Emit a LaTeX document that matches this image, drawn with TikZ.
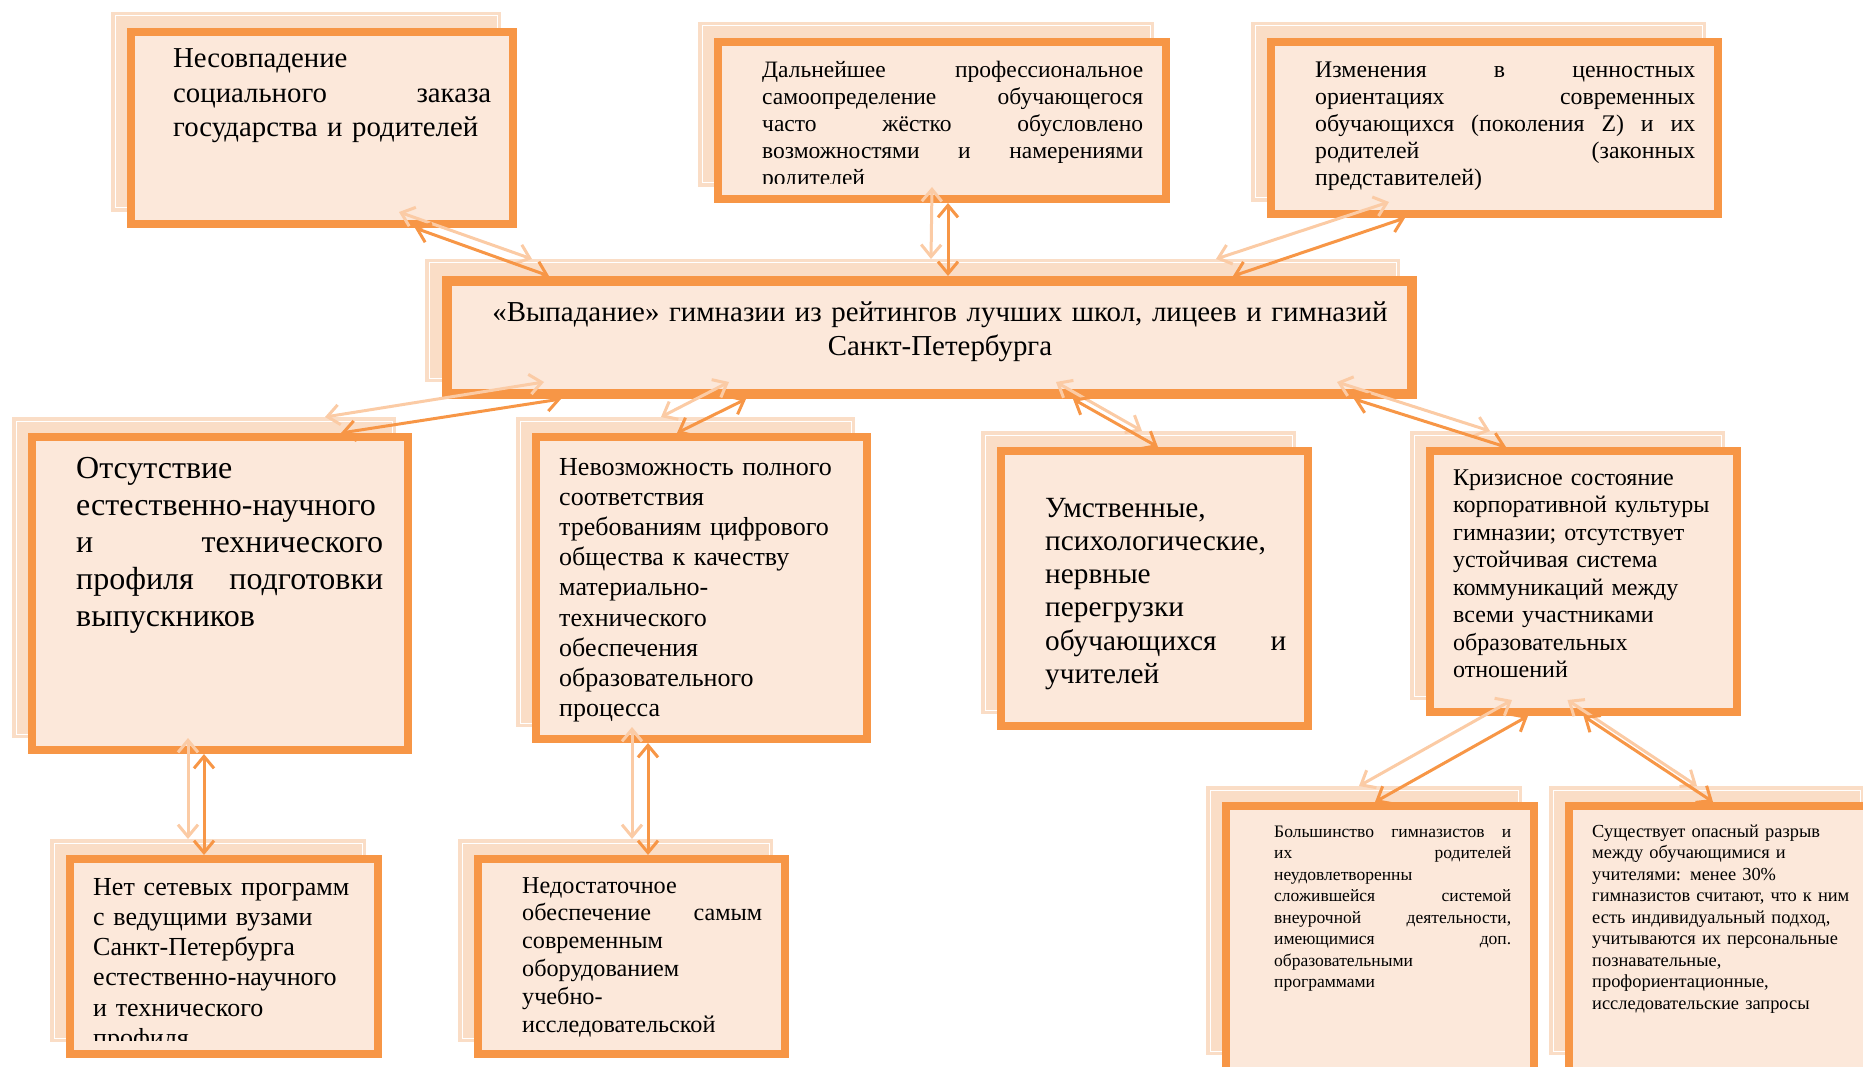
\documentclass[tikz,border=0pt]{standalone}
\usepackage{fontspec}
\setmainfont{Liberation Serif}
\usetikzlibrary{arrows.meta, positioning, calc}
\definecolor{cardline}{HTML}{F79646}
\definecolor{cardfill}{HTML}{FCE8DA}
\definecolor{ghostfill}{HTML}{FADDC6}
\definecolor{ghostline}{HTML}{FBCBA5}
\hyphenpenalty=10000
\exhyphenpenalty=10000

\begin{document}
\begin{tikzpicture}[x=1pt, y=-1pt,
    card/.style={rectangle, draw=cardline, fill=cardfill, line width=8pt, anchor=north west, inner sep=0pt},
    ghost/.style={rectangle, draw=white, fill=ghostfill, line width=1pt, outer sep=4pt, preaction={draw=ghostfill, line width=8pt}, anchor=north west, inner sep=0pt},
    txt/.style={inner sep=0pt, anchor=base west, align=left},
    link/.style={draw=cardline, line width=3pt, {Straight Barb[length=12pt,width=20pt]}-{Straight Barb[length=12pt,width=20pt]}},
    ghostlink/.style={link, draw=ghostline}]

    \useasboundingbox (0,0) rectangle (1863,1067);
    \clip (0,0) rectangle (1863,1067);

    % shadow cards
    \node [ghost, minimum width=382pt, minimum height=192pt] (Ag) at (111,12) {};
    \node [ghost, minimum width=448pt, minimum height=157pt] (Bg) at (698,22) {};
    \node [ghost, minimum width=447pt, minimum height=172pt] (Cg) at (1251,22) {};
    \node [ghost, minimum width=967pt, minimum height=115pt] (Ctrg) at (425,259) {};
    \node [ghost, minimum width=376pt, minimum height=313pt] (Dg) at (12,417) {};
    \node [ghost, minimum width=331pt, minimum height=302pt] (Eg) at (516,417) {};
    \node [ghost, minimum width=307pt, minimum height=275pt] (Fg) at (981,431) {};
    \node [ghost, minimum width=307pt, minimum height=261pt] (Gg) at (1410,431) {};
    \node [ghost, minimum width=308pt, minimum height=195pt] (Hg) at (50,839) {};
    \node [ghost, minimum width=307pt, minimum height=195pt] (Ig) at (458,839) {};
    \node [ghost, minimum width=308pt, minimum height=261pt] (Jg) at (1206,786) {};
    \node [ghost, minimum width=307pt, minimum height=261pt] (Kg) at (1549,786) {};

    % main cards
    \node [card, minimum width=382pt, minimum height=192pt] (A) at (127,28) {};
    \node [card, minimum width=448pt, minimum height=157pt] (B) at (714,38) {};
    \node [card, minimum width=447pt, minimum height=172pt] (C) at (1267,38) {};
    \node [card, line width=10pt, minimum width=965pt, minimum height=113pt] (Ctr) at (442,276) {};
    \node [card, minimum width=376pt, minimum height=313pt] (D) at (28,433) {};
    \node [card, minimum width=331pt, minimum height=302pt] (E) at (532,433) {};
    \node [card, minimum width=307pt, minimum height=275pt] (F) at (997,447) {};
    \node [card, minimum width=307pt, minimum height=261pt] (G) at (1426,447) {};
    \node [card, minimum width=308pt, minimum height=195pt] (H) at (66,855) {};
    \node [card, minimum width=307pt, minimum height=195pt] (I) at (474,855) {};
    \node [card, minimum width=308pt, minimum height=280pt] (J) at (1222,802) {};
    \node [card, minimum width=307pt, minimum height=280pt] (K) at (1565,802) {};

    % texts
    \node [txt, text width=318pt, font=\fontsize{28.8}{34.5}\selectfont] (A-t) at (173,68)
        {Несовпадение\\ социального\hfill заказа\\ государства и родителей};
    \begin{scope}
        \clip (700,30) rectangle (1180,184);
        \node [txt, text width=381pt, font=\fontsize{23.5}{27}\selectfont] (B-t) at (762,78)
            {Дальнейшее\hfill профессиональное\\ самоопределение\hfill обучающегося\\ часто\hfill жёстко\hfill обусловлено\\ возможностями\hfill и\hfill намерениями\\ родителей};
    \end{scope}
    \node [txt, text width=380pt, font=\fontsize{23.8}{27}\selectfont] (C-t) at (1315,78)
        {Изменения\hfill в\hfill ценностных\\ ориентациях\hfill современных\\ обучающихся\hfill (поколения\hfill Z)\hfill и\hfill их\\ родителей\hfill (законных\\ представителей)};
    \node [txt, anchor=base, align=center, text width=960pt, font=\fontsize{28.9}{34}\selectfont] (Ctr-t) at (940,321)
        {«Выпадание» гимназии из рейтингов лучших школ, лицеев и гимназий\\ \mbox{Санкт-Петербурга}};
    \node [txt, text width=307pt, font=\fontsize{32}{37}\selectfont] (D-t) at (76,478)
        {Отсутствие\\ \mbox{естественно-научного}\\ и\hfill технического\\ профиля\hfill подготовки\\ выпускников};
    \node [txt, text width=300pt, font=\fontsize{26}{30.2}\selectfont] (E-t) at (559,475)
        {Невозможность полного\\ соответствия\\ требованиям цифрового\\ общества к качеству\\ \mbox{материально-}\\ технического\\ обеспечения\\ образовательного\\ процесса};
    \node [txt, text width=241pt, font=\fontsize{29.3}{33.3}\selectfont] (F-t) at (1045,517)
        {Умственные,\\ психологические,\\ нервные\\ перегрузки\\ обучающихся\hfill и\\ учителей};
    \node [txt, text width=280pt, font=\fontsize{24}{27.5}\selectfont] (G-t) at (1453,485)
        {Кризисное состояние\\ корпоративной культуры\\ гимназии; отсутствует\\ устойчивая система\\ коммуникаций между\\ всеми участниками\\ образовательных\\ отношений};
    \begin{scope}
        \clip (70,860) rectangle (380,1040);
        \node [txt, text width=290pt, font=\fontsize{26}{30.3}\selectfont] (H-t) at (93,895)
            {Нет сетевых программ\\ с ведущими вузами\\ \mbox{Санкт-Петербурга}\\ \mbox{естественно-научного}\\ и технического\\ профиля};
    \end{scope}
    \node [txt, text width=240pt, font=\fontsize{24.2}{27.8}\selectfont] (I-t) at (522,893)
        {Недостаточное\\ обеспечение\hfill самым\\ современным\\ оборудованием\\ \mbox{учебно-}\\ исследовательской};
    \node [txt, text width=237pt, font=\fontsize{17.5}{21.5}\selectfont] (J-t) at (1274,837)
        {Большинство\hfill гимназистов\hfill и\\ их\hfill родителей\\ неудовлетворенны\\ сложившейся\hfill системой\\ внеурочной\hfill деятельности,\\ имеющимися\hfill доп.\\ образовательными\\ программами};
    \node [txt, text width=285pt, font=\fontsize{18.4}{21.5}\selectfont] (K-t) at (1592,837)
        {Существует опасный разрыв\\ между обучающимися и\\ учителями: менее 30\%\\ гимназистов считают, что к ним\\ есть индивидуальный подход,\\ учитываются их персональные\\ познавательные,\\ профориентационные,\\ исследовательские запросы};

    % faint connectors
    \path [ghostlink] ([xshift=93pt]Ag.south) -- ([xshift=-380.5pt]Ctrg.north);
    \path [ghostlink] ([xshift=6pt]Bg.south) -- ([xshift=18.5pt]Ctrg.north);
    \path [ghostlink] ([xshift=-89.5pt]Cg.south) -- ([xshift=303.5pt]Ctrg.north);
    \path [ghostlink] ([xshift=-368.5pt]Ctrg.south) -- ([xshift=121pt]Dg.north);
    \path [ghostlink] ([xshift=-183.5pt]Ctrg.south) -- ([xshift=-24.5pt]Eg.north);
    \path [ghostlink] ([xshift=143.5pt]Ctrg.south) -- ([xshift=3.5pt]Fg.north);
    \path [ghostlink] ([xshift=424.5pt]Ctrg.south) -- ([xshift=-77.5pt]Gg.north);
    \path [ghostlink] ([xshift=-16pt]Dg.south) -- ([xshift=-20pt]Hg.north);
    \path [ghostlink] ([xshift=-53.5pt]Eg.south) -- ([xshift=16.5pt]Ig.north);
    \path [ghostlink] ([xshift=-55.5pt]Gg.south) -- ([xshift=-5pt]Jg.north);
    \path [ghostlink] (Gg.south) -- ([xshift=-9.5pt]Kg.north);

    % connectors
    \path [link] ([xshift=93pt]A.south) -- ([xshift=-380.5pt]Ctr.north);
    \path [link] ([xshift=6pt]B.south) -- ([xshift=18.5pt]Ctr.north);
    \path [link] ([xshift=-89.5pt]C.south) -- ([xshift=303.5pt]Ctr.north);
    \path [link] ([xshift=-368.5pt]Ctr.south) -- ([xshift=121pt]D.north);
    \path [link] ([xshift=-183.5pt]Ctr.south) -- ([xshift=-24.5pt]E.north);
    \path [link] ([xshift=143.5pt]Ctr.south) -- ([xshift=3.5pt]F.north);
    \path [link] ([xshift=424.5pt]Ctr.south) -- ([xshift=-77.5pt]G.north);
    \path [link] ([xshift=-16pt]D.south) -- ([xshift=-20pt]H.north);
    \path [link] ([xshift=-53.5pt]E.south) -- ([xshift=16.5pt]I.north);
    \path [link] ([xshift=-55.5pt]G.south) -- ([xshift=-5pt]J.north);
    \path [link] (G.south) -- ([xshift=-9.5pt]K.north);
\end{tikzpicture}
\end{document}
